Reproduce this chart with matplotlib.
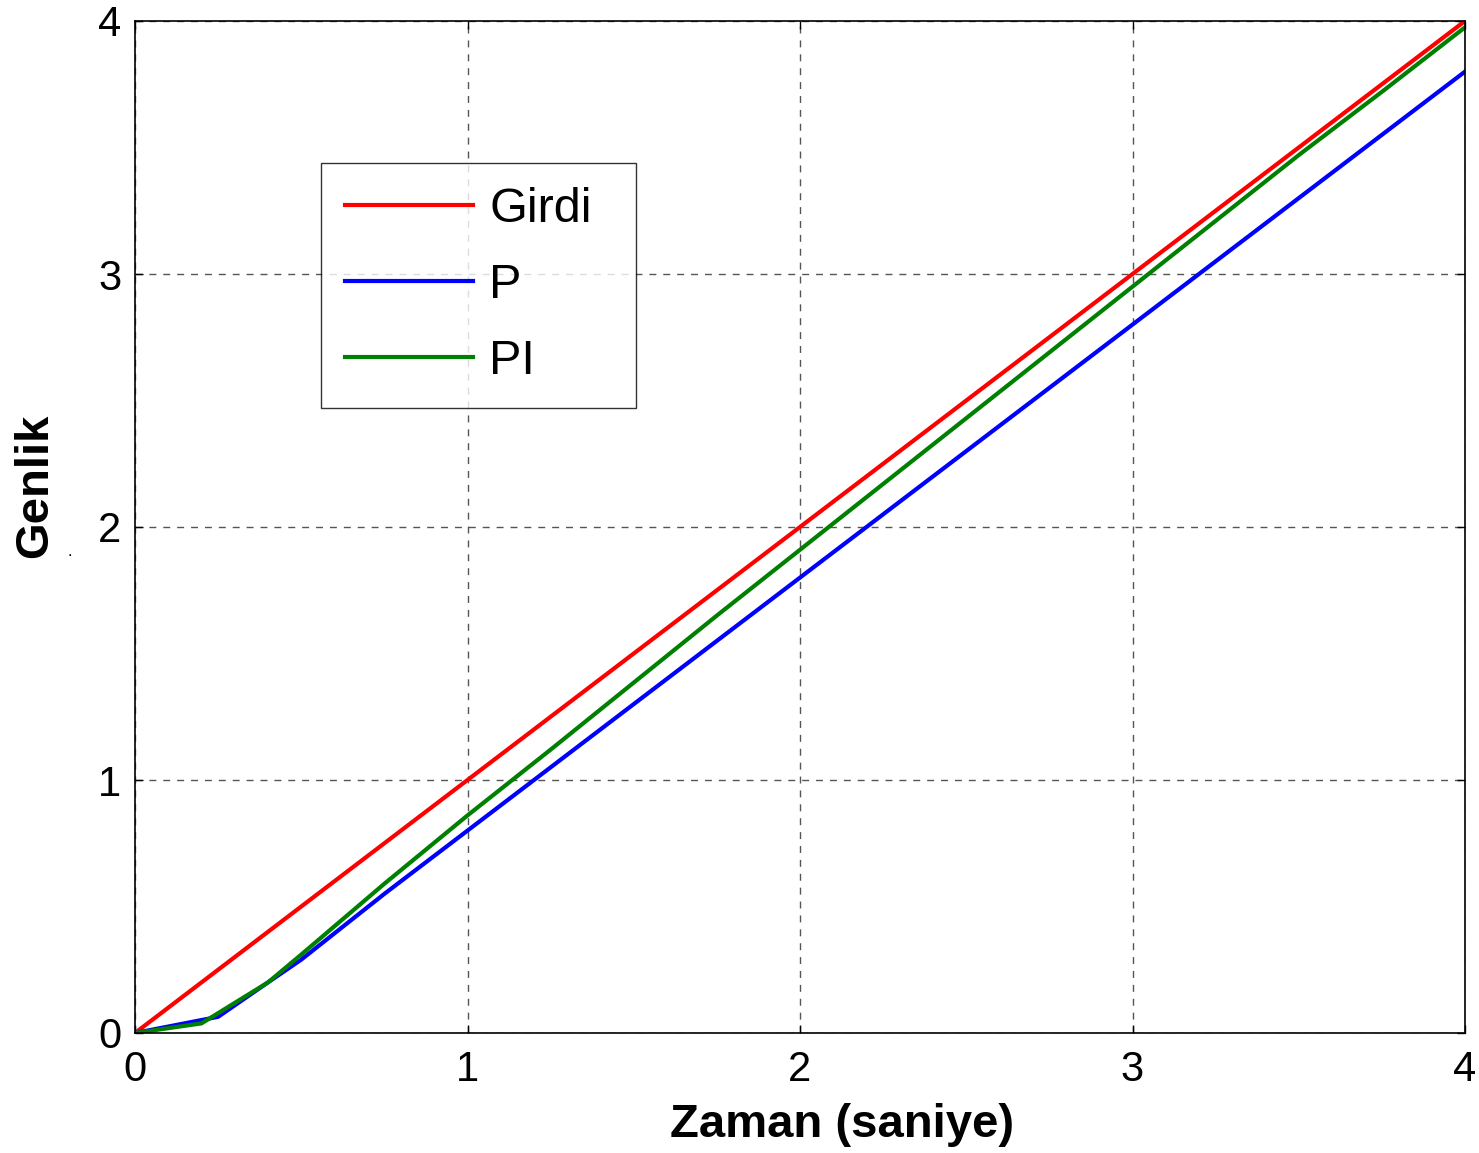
import matplotlib
matplotlib.use("Agg")
import matplotlib.pyplot as plt

plt.rcParams['font.family'] = ['Liberation Sans', 'DejaVu Sans']

# Reference ramp input
t_girdi = [0, 0.25, 0.5, 0.75, 1.0, 1.25, 1.5, 1.75, 2.0, 2.25, 2.5, 2.75,
           3.0, 3.25, 3.5, 3.75, 4.0]
y_girdi = [0, 0.25, 0.5, 0.75, 1.0, 1.25, 1.5, 1.75, 2.0, 2.25, 2.5, 2.75,
           3.0, 3.25, 3.5, 3.75, 4.0]

# P controller response
t_p = [0, 0.25, 0.4, 0.5, 0.75, 1.0, 1.25, 1.5, 1.75, 2.0, 2.25, 2.5, 2.75,
       3.0, 3.25, 3.5, 3.75, 4.0]
y_p = [0, 0.064, 0.20, 0.29, 0.55, 0.80, 1.05, 1.30, 1.55, 1.80, 2.05, 2.30,
       2.55, 2.80, 3.05, 3.30, 3.55, 3.80]

# PI controller response
t_pi = [0, 0.2, 0.4, 0.5, 0.75, 1.0, 1.25, 1.5, 1.75, 2.0, 2.25, 2.5, 2.75,
        3.0, 3.25, 3.5, 3.75, 4.0]
y_pi = [0, 0.038, 0.20, 0.31, 0.59, 0.86, 1.12, 1.385, 1.65, 1.91, 2.17, 2.43,
        2.69, 2.95, 3.21, 3.47, 3.72, 3.975]

x_ticks = [0, 1, 2, 3, 4]
y_ticks = [0, 1, 2, 3, 4]

W, H = 1479, 1153
L, R, T, B = 135, 1465, 21, 1033
fig = plt.figure(figsize=(W / 100, H / 100), dpi=100)
ax = fig.add_axes([L / W, 1 - B / H, (R - L) / W, (B - T) / H])


def ax_x(px):
    return (px - L) / (R - L)


def ax_y(py):
    return (B - py) / (B - T)


lw = 3.0
ax.plot(t_girdi, y_girdi, color=(1, 0, 0), lw=lw, label='Girdi')
ax.plot(t_p, y_p, color=(0, 0, 1), lw=lw, label='P')
ax.plot(t_pi, y_pi, color=(0, 0.5, 0), lw=lw, label='PI')

ax.set_xlim(0, 4)
ax.set_ylim(0, 4)
ax.set_xticks(x_ticks)
ax.set_yticks(y_ticks)
ax.tick_params(direction='in', length=6, width=1, labelsize=30,
               top=True, right=True)
ax.tick_params(axis='x', pad=12)
ax.tick_params(axis='y', pad=10)
for s in ax.spines.values():
    s.set_linewidth(1.2)

ax.grid(True, color='#555555', linestyle=(0, (5, 5)), linewidth=1.0)

ax.set_xlabel('Zaman (saniye)', fontsize=34, fontweight='bold')
ax.xaxis.set_label_coords(ax_x(842), ax_y(1103))
ax.set_ylabel('Genlik', fontsize=34, fontweight='bold')
ax.yaxis.set_label_coords(ax_x(57), ax_y(486))

leg_x0, leg_x1, leg_y0, leg_y1 = 321, 636, 163, 410
leg = ax.legend(loc='upper left',
                bbox_to_anchor=(ax_x(leg_x0), ax_y(leg_y1),
                                ax_x(leg_x1) - ax_x(leg_x0),
                                ax_y(leg_y0) - ax_y(leg_y1)),
                mode='expand', fontsize=35, frameon=True, fancybox=False,
                edgecolor='black', handlelength=2.62, handletextpad=0.34,
                labelspacing=0.63, borderpad=0.5, borderaxespad=0)
leg.get_frame().set_linewidth(1.0)

fig.text(70 / W, 1 - 551 / H, '.', fontsize=12, ha='center', va='center')

fig.savefig('out.png', dpi=100)
